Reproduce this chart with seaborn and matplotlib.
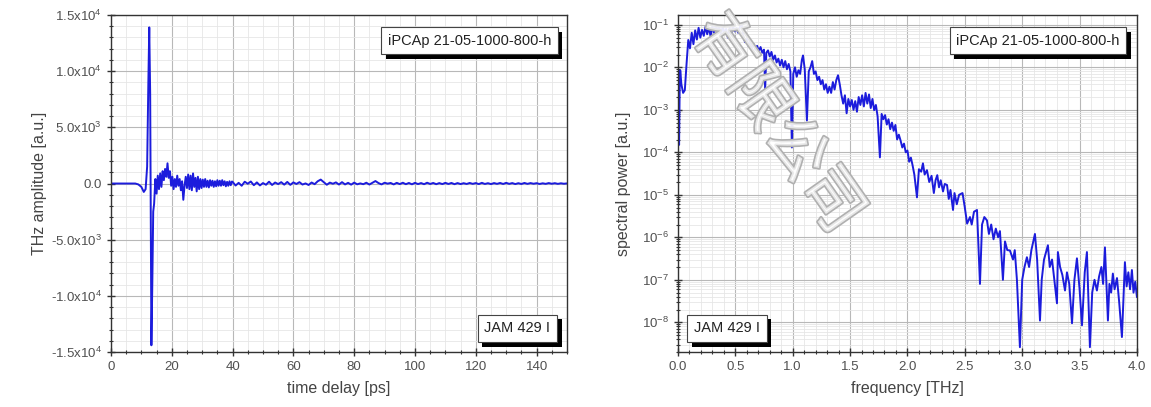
import numpy as np
import pandas as pd
import matplotlib
matplotlib.use("Agg")
import matplotlib.pyplot as plt
import matplotlib.patheffects as pe
from matplotlib.ticker import FixedLocator, MultipleLocator, LogLocator, NullFormatter
import seaborn as sns

# --- datos: transiente THz (dominio temporal) ---
t_ps = [0, 4, 8, 9, 10, 10.8, 11.4, 11.9, 12.3, 12.6, 12.9, 13.1, 13.3, 13.6, 13.9, 14.2,
        14.6, 15.0, 15.4, 15.8, 16.2, 16.6, 17.0, 17.4, 17.8, 18.2, 18.6, 19.0, 19.4, 19.8,
        20.2, 20.6, 21.0, 21.4, 21.8, 22.2, 22.6, 23.0, 23.4, 23.8, 24.2, 24.6, 25.0, 25.4, 25.8,
        26.2, 26.6, 27.0, 27.4, 27.8, 28.2, 28.6, 29.0, 29.4, 29.8, 30.2, 30.6, 31.0, 31.4, 31.8,
        32.2, 32.6, 33.0, 33.4, 33.8, 34.2, 34.6, 35.0, 35.4, 35.8, 36.2, 36.6, 37.0, 37.4, 37.8,
        38.2, 38.6, 39.0, 39.4, 39.8,
        40, 41, 42, 43, 44, 45, 46, 47, 48, 49, 50, 51, 52, 53, 54, 55, 56, 57, 58, 59,
        60, 61, 62, 63, 64, 65, 66, 67, 68, 69, 70, 71, 72, 73, 74, 75, 76, 77, 78, 79,
        80, 81, 82, 83, 84, 85, 86, 87, 88, 89, 90, 91, 92, 93, 94, 95, 96, 97, 98, 99,
        100, 101, 102, 103, 104, 105, 106, 107, 108, 109, 110, 111, 112, 113, 114, 115, 116, 117, 118, 119,
        120, 121, 122, 123, 124, 125, 126, 127, 128, 129, 130, 131, 132, 133, 134, 135, 136, 137, 138, 139,
        140, 141, 142, 143, 144, 145, 146, 147, 148, 149, 150]
amplitud = [0, 0, 0, -80, -300, -750, -500, 1500, 9000, 13900, 8000, -3000, -14400, -9000, -2500, -1800,
            400, -900, 700, -500, 900, -300, 1100, 300, 1300, 600, 1800, 500, 1100, -200,
            600, -500, 400, -300, 700, -200, 400, -600, 200, -1450, -200, 600, -400, 800, -500,
            700, -600, 900, -300, 500, -700, 600, -500, 400, -400, 350, -300, 400, -300, 250,
            -350, 300, -200, 250, -300, 200, -250, 300, -200, 250, -200, 300, -150, 200, -250,
            150, -200, 200, -150, 180,
            150, -180, 60, -200, 160, -20, 180, -150, 100, -170, 40, -110, 160, -130, 90, -50, 120, -100, 140, -120,
            100, -40, 120, -90, 10, -130, 90, -60, 200, 350, 120, -110, 80, -20, 100, -90, 120, -80, 60, -100,
            80, -70, 10, -60, 70, -90, 60, 220, 40, -80, 70, -10, 50, -80, 60, -50, 70, -60, 50, -70,
            60, -50, 40, -60, 70, -40, 50, -60, 40, -50, 60, -40, 50, -60, 40, -50, 30, -40, 50, -30,
            40, -50, 60, -40, 30, -50, 40, -30, 50, -40, 60, -30, 40, -50, 30, -40, 50, -30, 40, -20,
            30, -40, 20, -30, 40, -20, 30, -30, 20, -20, 10]

# --- datos: espectro de potencia ---
freq_thz = [0.000, 0.005, 0.010, 0.015, 0.020, 0.030, 0.045, 0.060, 0.075, 0.090,
            0.105, 0.120, 0.135, 0.150, 0.165, 0.180, 0.195, 0.210, 0.225, 0.240,
            0.255, 0.270, 0.285, 0.300, 0.315, 0.330, 0.345, 0.360, 0.375, 0.390,
            0.405, 0.420, 0.435, 0.450, 0.465, 0.480, 0.495, 0.510, 0.525, 0.540,
            0.555, 0.570, 0.585, 0.600, 0.615, 0.630, 0.645, 0.660, 0.675, 0.690,
            0.705, 0.720, 0.735, 0.750, 0.760, 0.770, 0.785, 0.800, 0.815, 0.830,
            0.845, 0.860, 0.875, 0.890, 0.905, 0.920, 0.935, 0.950, 0.965, 0.980,
            0.993, 1.005, 1.020, 1.035, 1.050, 1.065, 1.080, 1.090, 1.105, 1.124,
            1.140, 1.155, 1.170, 1.185, 1.200, 1.215, 1.230, 1.245, 1.260, 1.275,
            1.290, 1.305, 1.320, 1.335, 1.350, 1.365, 1.380, 1.395, 1.410, 1.425,
            1.440, 1.455, 1.470, 1.485, 1.500, 1.515, 1.530, 1.545, 1.560, 1.575,
            1.590, 1.605, 1.620, 1.635, 1.650, 1.665, 1.680, 1.695, 1.710, 1.725,
            1.740, 1.760, 1.775, 1.790, 1.805, 1.820, 1.835, 1.850, 1.865, 1.880,
            1.895, 1.910, 1.925, 1.940, 1.955, 1.970, 1.985, 2.000, 2.015, 2.030,
            2.045, 2.060, 2.083, 2.100, 2.120, 2.135, 2.150, 2.170, 2.190, 2.210,
            2.230, 2.245, 2.260, 2.275, 2.290, 2.310, 2.325, 2.345, 2.360, 2.375,
            2.397, 2.410, 2.430, 2.450, 2.480, 2.500, 2.520, 2.545, 2.560, 2.580,
            2.606, 2.632, 2.650, 2.670, 2.693, 2.710, 2.730, 2.750, 2.770, 2.790,
            2.806, 2.832, 2.850, 2.870, 2.893, 2.920, 2.935, 2.954, 2.980, 3.000,
            3.020, 3.041, 3.060, 3.080, 3.111, 3.130, 3.155, 3.170, 3.190, 3.224,
            3.240, 3.260, 3.280, 3.303, 3.311, 3.330, 3.350, 3.373, 3.390, 3.410,
            3.434, 3.455, 3.477, 3.500, 3.521, 3.545, 3.564, 3.590, 3.610, 3.630,
            3.651, 3.670, 3.690, 3.705, 3.721, 3.747, 3.760, 3.775, 3.790, 3.805,
            3.826, 3.845, 3.869, 3.895, 3.910, 3.925, 3.940, 3.956, 3.970, 3.985,
            4.000]
potencia = [1.0e-4, 6e-4, 1.5e-4, 3e-3, 8.5e-3, 4e-3, 2.5e-3, 2.9e-3, 1.2e-2, 4.4e-2,
            2.8e-2, 6.5e-2, 3.5e-2, 7.4e-2, 4.5e-2, 8.5e-2, 5e-2, 7.6e-2, 5.5e-2, 9e-2,
            6e-2, 8.7e-2, 5.2e-2, 9.5e-2, 6.5e-2, 1.0e-1, 7e-2, 9e-2, 5.8e-2, 9.2e-2,
            6.2e-2, 8e-2, 5e-2, 8.5e-2, 6e-2, 9.5e-2, 7e-2, 8.5e-2, 6.5e-2, 9e-2,
            1.05e-1, 5.5e-2, 3.9e-2, 4.8e-2, 3.2e-2, 4e-2, 2.8e-2, 3.5e-2, 2.6e-2, 3.2e-2,
            2.4e-2, 3e-2, 2.2e-2, 2.6e-2, 2.9e-3, 2.2e-2, 2.5e-2, 1.8e-2, 2.3e-2, 1.5e-2,
            1.9e-2, 1.3e-2, 1.6e-2, 1.1e-2, 1.5e-2, 1.0e-2, 1.4e-2, 9e-3, 1.2e-2, 8e-3,
            1.3e-4, 7e-3, 1.0e-2, 6e-3, 8.5e-3, 7e-3, 1.5e-2, 1.9e-2, 9e-3, 5.6e-4,
            8e-3, 1.0e-2, 1.4e-2, 7e-3, 8e-3, 5e-3, 6e-3, 4e-3, 5e-3, 3e-3,
            4e-3, 2.5e-3, 3.5e-3, 2.5e-3, 4.5e-3, 3e-3, 5e-3, 6.5e-3, 4e-3, 2.2e-3,
            1.4e-3, 2.2e-3, 8.3e-4, 1.8e-3, 1.2e-3, 1.7e-3, 1.0e-3, 1.6e-3, 9e-4, 2e-3,
            1.3e-3, 2.2e-3, 1.2e-3, 2.5e-3, 1.4e-3, 2.3e-3, 1.1e-3, 1.8e-3, 9.8e-4, 1.3e-3,
            7e-4, 7.6e-5, 8e-4, 6e-4, 7.5e-4, 4.5e-4, 6e-4, 3.5e-4, 5e-4, 3.2e-4,
            4.4e-4, 2e-4, 2.6e-4, 1.9e-4, 1.3e-4, 1.6e-4, 1.0e-4, 1.1e-4, 6e-5, 7.5e-5,
            4.9e-5, 3e-5, 8.7e-6, 4e-5, 3.5e-5, 5.5e-5, 3e-5, 3.8e-5, 2e-5, 2.8e-5,
            1.1e-5, 2.2e-5, 2.9e-5, 1.5e-5, 2.2e-5, 1.2e-5, 1.8e-5, 1.7e-5, 8e-6, 1.3e-5,
            4.4e-6, 1.1e-5, 6e-6, 1.0e-5, 1.1e-5, 5e-6, 2.1e-6, 3e-6, 2e-6, 4e-6,
            4.4e-6, 8e-8, 2e-6, 3e-6, 2.5e-6, 1.2e-6, 2e-6, 9e-7, 1.6e-6, 1e-6,
            1.4e-6, 1.0e-7, 8e-7, 5e-7, 4.9e-7, 3e-7, 5e-7, 1.0e-7, 2.6e-9, 1e-7,
            2e-7, 3.4e-7, 2e-7, 5e-7, 1.2e-6, 3e-7, 1.1e-8, 1e-7, 3e-7, 6.5e-7,
            2e-7, 3e-7, 1e-7, 2.8e-8, 4.5e-7, 2e-7, 1.3e-7, 5.6e-8, 1.5e-7, 8e-8,
            9.5e-9, 1e-7, 3.2e-7, 6e-8, 8.5e-9, 1.5e-7, 4.5e-7, 2.6e-9, 5e-8, 1e-7,
            5.6e-8, 1.2e-7, 2e-7, 8e-8, 5.8e-7, 1.1e-8, 8e-8, 5e-8, 1.4e-7, 6e-8,
            1.1e-7, 3e-8, 4.5e-9, 2.6e-7, 7e-8, 1.5e-7, 6e-8, 1.7e-7, 5e-8, 9e-8,
            3.9e-8]

etiquetas_y_tiempo = ['-1.5x10$^4$', '-1.0x10$^4$', '-5.0x10$^3$', '0.0',
                      '5.0x10$^3$', '1.0x10$^4$', '1.5x10$^4$']
valores_y_tiempo = [-1.5e4, -1.0e4, -5.0e3, 0, 5.0e3, 1.0e4, 1.5e4]
etiquetas_y_potencia = ['10$^{-8}$', '10$^{-7}$', '10$^{-6}$', '10$^{-5}$',
                        '10$^{-4}$', '10$^{-3}$', '10$^{-2}$', '10$^{-1}$']
valores_y_potencia = [1e-8, 1e-7, 1e-6, 1e-5, 1e-4, 1e-3, 1e-2, 1e-1]
muestra = 'iPCAp 21-05-1000-800-h'
cristal = 'JAM 429 I'

df_t = pd.DataFrame({'t': t_ps, 'E': amplitud})
df_f = pd.DataFrame({'f': freq_thz, 'P': potencia})

sns.set_style('ticks')
plt.rcParams['font.family'] = ['Liberation Sans', 'Noto Sans CJK SC', 'DejaVu Sans']
plt.rcParams['mathtext.fontset'] = 'custom'
plt.rcParams['mathtext.rm'] = 'Liberation Sans'
plt.rcParams['mathtext.default'] = 'regular'

azul = '#1c1cdc'
gris_txt = '#505050'

fig = plt.figure(figsize=(11.51, 4.07), dpi=100)
ax1 = fig.add_axes([0.0964, 0.1351, 0.3962, 0.8280])
ax2 = fig.add_axes([0.5890, 0.1351, 0.3988, 0.8280])


def estilo(ax):
    for s in ax.spines.values():
        s.set_color('#333333')
        s.set_linewidth(1.0)
    ax.grid(which='major', color='#b8b8b8', lw=0.8)
    ax.grid(which='minor', color='#e6e6e6', lw=0.6)
    ax.set_axisbelow(True)
    ax.tick_params(which='major', direction='inout', length=6, width=1, color='#333333',
                   labelsize=9.5, labelcolor=gris_txt)
    ax.tick_params(which='minor', direction='inout', length=3.5, width=0.8, color='#333333')


def caja(ax, x, y, texto, ha, va):
    t = ax.text(x, y, texto, transform=ax.transAxes, ha=ha, va=va, fontsize=10.5,
                color='#222222', zorder=6,
                bbox=dict(boxstyle='square,pad=0.45', fc='white', ec='#444444', lw=0.8))
    t.get_bbox_patch().set_path_effects(
        [pe.withSimplePatchShadow(offset=(3.5, -3.5), shadow_rgbFace='black', alpha=1.0)])


# panel izquierdo: dominio temporal
sns.lineplot(data=df_t, x='t', y='E', ax=ax1, color=azul, lw=1.4, sort=False, estimator=None)
ax1.set_xlim(0, 150)
ax1.set_ylim(-1.5e4, 1.5e4)
ax1.xaxis.set_major_locator(MultipleLocator(20))
ax1.xaxis.set_minor_locator(MultipleLocator(5))
ax1.yaxis.set_major_locator(FixedLocator(valores_y_tiempo))
ax1.set_yticklabels(etiquetas_y_tiempo)
ax1.yaxis.set_minor_locator(MultipleLocator(1000))
estilo(ax1)
ax1.set_xlabel('time delay [ps]', fontsize=11.5, color='#444444', labelpad=6)
ax1.set_ylabel('THz amplitude [a.u.]', fontsize=11.5, color='#444444', labelpad=3)
caja(ax1, 0.965, 0.945, muestra, 'right', 'top')
caja(ax1, 0.963, 0.05, cristal, 'right', 'bottom')

# panel derecho: espectro
sns.lineplot(data=df_f, x='f', y='P', ax=ax2, color=azul, lw=1.4, sort=False, estimator=None)
ax2.set_yscale('log')
ax2.set_xlim(0, 4)
ax2.set_ylim(2e-9, 1.7e-1)
ax2.xaxis.set_major_locator(MultipleLocator(0.5))
ax2.xaxis.set_minor_locator(MultipleLocator(0.1))
ax2.yaxis.set_major_locator(FixedLocator(valores_y_potencia))
ax2.set_yticklabels(etiquetas_y_potencia)
ax2.yaxis.set_minor_locator(LogLocator(base=10, subs=np.arange(2, 10), numticks=20))
ax2.yaxis.set_minor_formatter(NullFormatter())
ax2.xaxis.set_major_formatter(matplotlib.ticker.FormatStrFormatter('%.1f'))
estilo(ax2)
ax2.set_xlabel('frequency [THz]', fontsize=11.5, color='#444444', labelpad=6)
ax2.set_ylabel('spectral power [a.u.]', fontsize=11.5, color='#444444', labelpad=8)
caja(ax2, 0.962, 0.945, muestra, 'right', 'top')
caja(ax2, 0.035, 0.05, cristal, 'left', 'bottom')

# marca de agua
fig.text(0.675, 0.695, '有限公司', rotation=-55, ha='center', va='center', fontsize=45,
         family=['Noto Sans CJK SC', 'DejaVu Sans'], color=(1, 1, 1, 0.7), zorder=10,
         path_effects=[pe.Stroke(linewidth=2.4, foreground='#b0b0b0'), pe.Normal()])

fig.savefig('out.png', dpi=100)
